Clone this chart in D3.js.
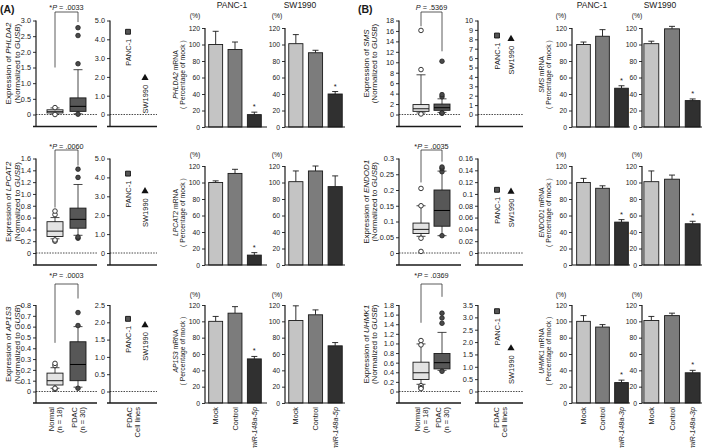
<!DOCTYPE html>
<html><head><meta charset="utf-8">
<script src="https://cdn.jsdelivr.net/npm/d3@7"></script>
<style>body{margin:0;background:#fff}svg{display:block;font-family:"Liberation Sans",Arial,Helvetica,sans-serif}</style>
</head><body><script>
// ---------------- DATA ----------------
const geneNames = ["PHLDA2","LPCAT2","AP1S3","SMS","ENDOD1","UHMK1"];
const pLabels = ["*P = .0033","*P = .0060","*P = .0003","P = .5369","*P = .0035","*P = .0369"];
const groupNames = ["Normal","PDAC"];
const groupSizes = ["(n = 18)","(n = 30)"];
const boxTickLabels = [
  ["0","0.5","1.0","1.5","2.0","2.5","3.0"],
  ["0","0.2","0.4","0.6","0.8","1.0","1.2","1.4","1.6"],
  ["0","0.1","0.2","0.3","0.4","0.5","0.6","0.7","0.8"],
  ["0","2","4","6","8","10","12","14","16","18"],
  ["0","0.05","0.1","0.15","0.2","0.25","0.3"],
  ["0","0.2","0.4","0.6","0.8","1.0","1.2","1.4","1.6","1.8"]
];
// [low whisker, Q1, median, Q3, high whisker]
const normalBox = [
  [0.01, 0.05, 0.09, 0.15, 0.21],
  [0.24, 0.28, 0.37, 0.53, 0.60],
  [0.03, 0.06, 0.10, 0.17, 0.22],
  [0.3, 0.6, 1.1, 1.9, 7.6],
  [0.053, 0.062, 0.075, 0.095, 0.15],
  [0.15, 0.25, 0.39, 0.61, 0.99]
];
const pdacBox = [
  [0.02, 0.10, 0.26, 0.53, 1.43],
  [0.30, 0.42, 0.57, 0.76, 1.16],
  [0.04, 0.10, 0.25, 0.46, 0.60],
  [0.4, 0.8, 1.3, 2.0, 3.0],
  [0.055, 0.085, 0.135, 0.20, 0.26],
  [0.44, 0.47, 0.60, 0.79, 1.23]
];
const normalOutliers = [
  [0.22, 0.0],
  [0.65, 0.71, 0.20, 0.22],
  [0.24, 0.26, 0.02, 0.03],
  [8.6, 16.1, 0.1],
  [0.15, 0.205, 0.047, 0.005],
  [1.06, 0.97, 0.12, 0.08, 0.06]
];
const pdacOutliers = [
  [1.62, 2.52, 2.77, 0.01],
  [1.28, 1.42, 0.25, 0.27],
  [0.61, 0.73, 0.03],
  [3.4, 3.8, 10.2, 0.25, 0.3],
  [0.258, 0.268, 0.273, 0.055],
  [1.42, 1.53, 1.63, 0.42]
];
// lower ends of the significance bracket legs [Normal side, PDAC side]
const bracketLegEnds = [[1.5, 2.95],[0.77, 1.48],[0.45, 0.86],[16.9, 12.1],[0.224, 0.29],[1.43, 1.97]];

const cellLineNames = ["PANC-1","SW1990"];
const cellTickLabels = [
  ["0","1.0","2.0","3.0","4.0","5.0"],
  ["0","1.0","2.0","3.0","4.0","5.0"],
  ["0","0.5","1.0","1.5","2.0","2.5"],
  ["0","1","2","3","4","5","6","7","8","9","10"],
  ["0","0.02","0.04","0.06","0.08","0.1","0.12","0.14","0.16"],
  ["0","0.5","1.0","1.5","2.0","2.5","3.0","3.5"]
];
const cellValues = [[4.4,1.95],[4.2,3.27],[2.1,1.92],[8.4,8.05],[0.107,0.104],[3.25,1.75]];

const barGroupsA = ["Mock","Control","miR-148a-5p"];
const barGroupsB = ["Mock","Control","miR-148a-3p"];
const barTickLabels = ["0","20","40","60","80","100","120"];
const panc1Mean = [[100,94,15],[100,111,12],[100,110,54],[100,110,47],[100,93,52],[100,93,25]];
const panc1Err  = [[16,9,3],[2,5,3],[6,8,3],[3,8,3],[5,3,3],[7,3,3]];
const panc1Sig  = [[0,0,1],[0,0,1],[0,0,1],[0,0,1],[0,0,1],[0,0,1]];
const sw1990Mean = [[101,90,40],[101,114,95],[101,108,70],[101,119,32],[101,104,50],[101,107,37]];
const sw1990Err  = [[11,3,3],[13,6,13],[18,6,4],[3,3,2],[13,5,3],[5,3,3]];
const sw1990Sig  = [[0,0,1],[0,0,0],[0,0,0],[0,0,1],[0,0,1],[0,0,1]];

// ---------------- LAYOUT ----------------
const W = 709, H = 448;
const FONT = 7.3;
const INK = "#1a1a1a";
const colGeom = [
  {panel:"(A)", panelX:0, boxAxis:36, boxRange:[55,78], boxEnd:97, labX:[8,17],
   cellAxis:110, cellX:[128,145], cellEnd:157,
   bars:[{axis:205, range:[206,264], end:267, pctX:195, titleX:232}, {axis:285, range:[286,345], end:345, pctX:277, titleX:300}],
   barLabX:[176,182.5], groups:barGroupsA},
  {panel:"(B)", panelX:358, boxAxis:399, boxRange:[421,442], boxEnd:461, labX:[366,374],
   cellAxis:478, cellX:[497,511], cellEnd:523,
   bars:[{axis:572, range:[574,631], end:630, pctX:561, titleX:592}, {axis:642, range:[641,703], end:702, pctX:637, titleX:660}],
   barLabX:[542,548.5], groups:barGroupsB}
];
const rowGeom = [
  {top:20.5, zero:114.5, base:126.5, barTop:28, barZero:127, pY:7, brTop:12, pctY:16},
  {top:158.5, zero:253, base:265, barTop:166, barZero:265, pY:146, brTop:150, pctY:155},
  {top:305, zero:391.5, base:403, barTop:305, barZero:403, pY:275, brTop:284, pctY:295}
];

const svg = d3.select("body").append("svg").attr("width", W).attr("height", H)
  .attr("font-size", FONT).attr("fill", INK);

function styleAxis(g, size) {
  g.select(".domain").remove();
  g.selectAll(".tick line").attr("stroke", INK).attr("stroke-width", 0.9);
  g.selectAll(".tick text").attr("font-size", size || FONT).attr("fill", INK)
    .attr("font-family", '"Liberation Sans",Arial,sans-serif');
}
function line(g, x1, y1, x2, y2, w, dash) {
  const l = g.append("line").attr("x1", x1).attr("y1", y1).attr("x2", x2).attr("y2", y2)
    .attr("stroke", INK).attr("stroke-width", w || 1);
  if (dash) l.attr("stroke-dasharray", dash);
  return l;
}
function vText(g, x, y, anchor, parts, size) {
  const t = g.append("text").attr("transform", `translate(${x},${y}) rotate(-90)`)
    .attr("text-anchor", anchor).attr("font-size", size || FONT).attr("dy", "0.35em");
  parts.forEach(p => t.append("tspan").attr("font-style", p[1] ? "italic" : "normal").text(p[0]));
  return t;
}

for (let i = 0; i < 6; i++) {
  const c = colGeom[Math.floor(i / 3)], r = rowGeom[i % 3], row = i % 3;
  const g = svg.append("g");

  // ---- box plot ----
  const bt = boxTickLabels[i];
  const yB = d3.scaleLinear().domain([0, +bt[bt.length - 1]]).range([r.zero, r.top]);
  const xB = d3.scalePoint().domain(groupNames).range(c.boxRange);
  const ax = g.append("g").attr("transform", `translate(${c.boxAxis},0)`)
    .call(d3.axisLeft(yB).tickValues(bt.map(Number)).tickFormat((d, k) => bt[k]).tickSize(3).tickPadding(2));
  styleAxis(ax);
  line(g, c.boxAxis, r.top, c.boxAxis, r.base, 1.2);
  line(g, c.boxAxis - 3, r.base, c.boxEnd, r.base, 1.4);
  line(g, c.boxAxis, r.zero, c.boxEnd, r.zero, 0.8, "1.5,1.2");
  const boxW = 16, capW = 4.5;
  [normalBox[i], pdacBox[i]].forEach((s, k) => {
    const cx = xB(groupNames[k]);
    line(g, cx, yB(s[0]), cx, yB(s[4]), 0.8);
    line(g, cx - capW, yB(s[0]), cx + capW, yB(s[0]), 0.8);
    line(g, cx - capW, yB(s[4]), cx + capW, yB(s[4]), 0.8);
    g.append("rect").attr("x", cx - boxW / 2).attr("y", yB(s[3])).attr("width", boxW)
      .attr("height", yB(s[1]) - yB(s[3])).attr("fill", k ? "#575757" : "#e3e3e3")
      .attr("stroke", INK).attr("stroke-width", 0.9);
    line(g, cx - boxW / 2, yB(s[2]), cx + boxW / 2, yB(s[2]), 1).attr("stroke", k ? "#000" : INK);
  });
  normalOutliers[i].forEach(v => g.append("circle").attr("cx", xB("Normal")).attr("cy", yB(v)).attr("r", 2.3)
    .attr("fill", "#fff").attr("stroke", "#222").attr("stroke-width", 0.9));
  pdacOutliers[i].forEach(v => g.append("circle").attr("cx", xB("PDAC")).attr("cy", yB(v)).attr("r", 2.3)
    .attr("fill", "#4a4a4a").attr("stroke", "#222").attr("stroke-width", 0.8));
  // bracket + P value
  const b = bracketLegEnds[i];
  const x0 = xB("Normal"), x1 = xB("PDAC");
  g.append("path").attr("d", `M${x0},${yB(b[0])}V${r.brTop}H${x1}V${yB(b[1])}`)
    .attr("fill", "none").attr("stroke", "#333").attr("stroke-width", 0.8);
  const pm = pLabels[i].match(/^(\*?)P(.*)$/);
  const pt = g.append("text").attr("x", (x0 + x1) / 2).attr("y", r.pY).attr("dy", "0.35em").attr("text-anchor", "middle");
  pt.append("tspan").text(pm[1]);
  pt.append("tspan").attr("font-style", "italic").text("P");
  pt.append("tspan").text(pm[2]);
  // y label
  const yc = (r.top + r.zero) / 2 - 4;
  vText(g, c.labX[0], yc, "middle", [["Expression of "], [geneNames[i], 1]], 8);
  vText(g, c.labX[1], yc, "middle", [["(Normalized to "], ["GUSB", 1], [")"]], 8);
  if (row === 2) {
    groupNames.forEach((n, k) => {
      const cx = xB(n);
      vText(g, cx - 4, r.base + 4, "end", [[n]], 7.5);
      vText(g, cx + 4, r.base + 4, "end", [[groupSizes[k]]], 7.5);
    });
  }

  // ---- cell lines ----
  const ct = cellTickLabels[i];
  const yC = d3.scaleLinear().domain([0, +ct[ct.length - 1]]).range([r.zero, r.top]);
  const xC = d3.scaleOrdinal().domain(cellLineNames).range(c.cellX);
  const ax2 = g.append("g").attr("transform", `translate(${c.cellAxis},0)`)
    .call(d3.axisLeft(yC).tickValues(ct.map(Number)).tickFormat((d, k) => ct[k]).tickSize(3).tickPadding(2));
  styleAxis(ax2);
  line(g, c.cellAxis, r.top, c.cellAxis, r.base, 1.2);
  line(g, c.cellAxis - 3, r.base, c.cellEnd, r.base, 1.4);
  line(g, c.cellAxis, r.zero, c.cellEnd, r.zero, 0.8, "1.5,1.2");
  cellLineNames.forEach((n, k) => {
    const v = cellValues[i][k], cx = xC(n), cy = yC(v);
    g.append("path").attr("transform", `translate(${cx},${cy})`)
      .attr("d", d3.symbol().type(k ? d3.symbolTriangle : d3.symbolSquare).size(k ? 22 : 24)())
      .attr("fill", k ? "#111" : "#555").attr("stroke", "#111").attr("stroke-width", k ? 0 : 0.9);
    vText(g, cx, cy + 7, "end", [[n]], 7.5);
  });
  if (row === 2) {
    const mx = (c.cellAxis + c.cellEnd) / 2;
    vText(g, mx - 4, r.base + 4, "end", [["PDAC"]], 7.5);
    vText(g, mx + 4, r.base + 4, "end", [["Cell lines"]], 7.5);
  }

  // ---- bar charts ----
  const yR = d3.scaleLinear().domain([0, 120]).range([r.barZero, r.barTop]);
  const barSets = [[panc1Mean[i], panc1Err[i], panc1Sig[i]], [sw1990Mean[i], sw1990Err[i], sw1990Sig[i]]];
  const fills = ["#c4c4c4", "#7c7c7c", "#303030"];
  c.bars.forEach((bg, s) => {
    const xR = d3.scaleBand().domain(c.groups).range(bg.range).paddingInner(0.28).paddingOuter(0.14);
    const ax3 = g.append("g").attr("transform", `translate(${bg.axis},0)`)
      .call(d3.axisLeft(yR).tickValues(barTickLabels.map(Number)).tickFormat((d, k) => barTickLabels[k]).tickSize(3).tickPadding(2));
    styleAxis(ax3, 6.8);
    const [m, e, sg] = barSets[s];
    c.groups.forEach((gn, k) => {
      const x = xR(gn), w = xR.bandwidth(), cx = x + w / 2;
      line(g, cx, yR(m[k]), cx, yR(m[k] + e[k]), 0.9);
      line(g, cx - 3, yR(m[k] + e[k]), cx + 3, yR(m[k] + e[k]), 0.9);
      g.append("rect").attr("x", x).attr("y", yR(m[k])).attr("width", w).attr("height", yR(0) - yR(m[k]))
        .attr("fill", fills[k]).attr("stroke", INK).attr("stroke-width", 0.9);
      if (sg[k]) g.append("text").attr("x", cx).attr("y", yR(m[k] + e[k]) - 3).attr("text-anchor", "middle")
        .attr("font-size", 7.5).text("*");
      if (row === 2) vText(g, cx, r.barZero + 4, "end", [[gn, gn.startsWith("miR")]], 7.3);
    });
    line(g, bg.axis, r.barTop, bg.axis, r.barZero, 1.2);
    line(g, bg.axis, r.barZero, bg.end, r.barZero, 1.2);
    g.append("text").attr("x", bg.pctX).attr("y", r.pctY).attr("dy", "0.35em").attr("text-anchor", "middle")
      .attr("font-size", 6.8).text("(%)");
    if (row === 0) g.append("text").attr("x", bg.titleX).attr("y", 5).attr("dy", "0.35em")
      .attr("text-anchor", "middle").attr("font-size", 8.5).text(cellLineNames[s]);
  });
  const yc2 = (r.barTop + r.barZero) / 2 - 3;
  vText(g, c.barLabX[0], yc2, "middle", [[geneNames[i], 1], [" mRNA"]], 6.8);
  vText(g, c.barLabX[1], yc2, "middle", [["( Percentage of mock )"]], 6.8);

  if (i % 3 === 0) svg.append("text").attr("x", c.panelX).attr("y", 9).attr("dy", "0.35em")
    .attr("font-weight", "bold").attr("font-size", 10.5).text(c.panel);
}
</script></body></html>
